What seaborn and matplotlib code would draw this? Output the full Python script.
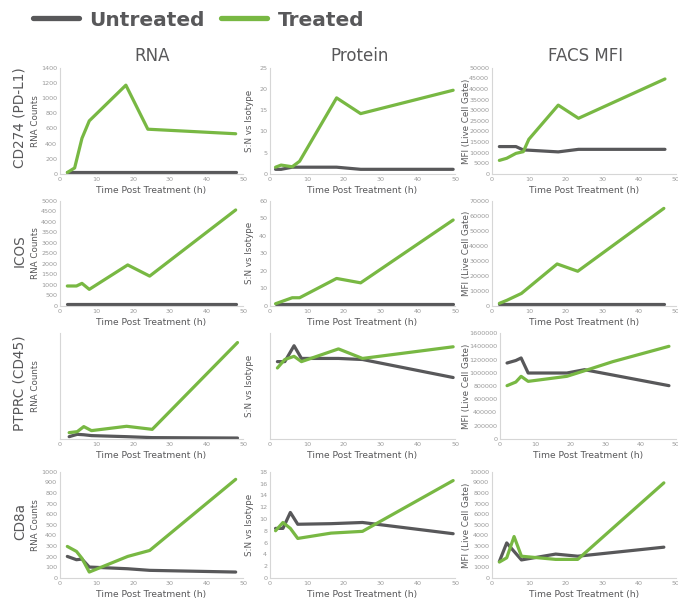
import numpy as np
import pandas as pd
import matplotlib.pyplot as plt
import matplotlib.transforms as mtransforms
from matplotlib.lines import Line2D
from matplotlib.ticker import StrMethodFormatter
import seaborn as sns

sns.set_style("white")
plt.rcParams['font.family'] = ['DejaVu Sans']

GREEN = '#78b843'
GREY = '#58585a'
TICK_GREY = '#9a9a9a'
SPINE_GREY = '#d6d6d6'

# ---- data ----
# CD274 (PD-L1)
pdl1_rna_hours = [2, 4, 6, 8, 18, 24, 48]
pdl1_rna_untreated = [20, 20, 20, 20, 20, 20, 20]
pdl1_rna_treated = [20, 80, 470, 700, 1170, 590, 530]

pdl1_prot_hours = [1.5, 3, 6, 8, 18, 24.5, 49.5]
pdl1_prot_untreated = [1.1, 1.1, 1.6, 1.6, 1.6, 1.1, 1.1]
pdl1_prot_treated = [1.6, 2.1, 1.7, 3.0, 17.9, 14.2, 19.7]

pdl1_facs_hours = [2, 4, 6.5, 8.5, 10, 18, 23.5, 47]
pdl1_facs_untreated = [12900, 12900, 12900, 11300, 11200, 10400, 11600, 11600]
pdl1_facs_treated = [6400, 7400, 9700, 10500, 16300, 32400, 26200, 44700]

# ICOS
icos_rna_hours = [2, 4.5, 6, 8, 18.5, 24.5, 48]
icos_rna_untreated = [95, 95, 95, 95, 95, 95, 95]
icos_rna_treated = [950, 950, 1075, 790, 1950, 1420, 4560]

icos_prot_hours = [1.5, 6, 8, 18, 24.5, 49.5]
icos_prot_untreated = [1.3, 1.3, 1.3, 1.3, 1.3, 1.3]
icos_prot_treated = [1.3, 4.7, 4.7, 15.7, 13.2, 49]

icos_facs_hours = [2, 4, 8, 17.7, 23.3, 46.7]
icos_facs_untreated = [1540, 1540, 1540, 1540, 1540, 1540]
icos_facs_treated = [1760, 3740, 8360, 27950, 23100, 64900]

# PTPRC (CD45) - RNA and protein panels carry no y scale (relative units)
cd45_rna_hours = [2.5, 4.7, 6.5, 8.6, 18.2, 25.2, 48.5]
cd45_rna_untreated = [2.2, 4.4, 4.0, 3.2, 2.2, 1.3, 0.9]
cd45_rna_treated = [6.0, 6.9, 11.7, 7.9, 12.0, 9.1, 91]

cd45_prot_hours = [2, 4, 6.5, 8.5, 18.5, 25, 49.5]
cd45_prot_untreated = [73, 73, 88, 76, 76, 75, 58]
cd45_prot_treated = [67, 75, 78, 73, 85, 76, 87]

cd45_facs_hours = [2, 4.5, 6, 8, 19, 24, 32, 48]
cd45_facs_untreated = [1147000, 1185000, 1223000, 996000, 996000, 1046000, 966000, 805000]
cd45_facs_treated = [805000, 860000, 946000, 870000, 946000, 1030000, 1167000, 1399000]

# CD8a
cd8_rna_hours = [2, 4.5, 6, 8, 18.5, 24.5, 48]
cd8_rna_untreated = [203, 172, 178, 103, 87, 72, 56]
cd8_rna_treated = [297, 250, 185, 56, 203, 259, 928]

cd8_prot_hours = [1.5, 3.5, 5.5, 7.5, 16.5, 25, 49.5]
cd8_prot_untreated = [8.4, 8.4, 11.1, 9.1, 9.2, 9.4, 7.5]
cd8_prot_treated = [8.0, 9.4, 8.4, 6.7, 7.6, 7.9, 16.5]

cd8_facs_hours = [2, 4, 6, 8, 17.3, 23.3, 46.7]
cd8_facs_untreated = [1550, 3300, 2500, 1700, 2250, 2050, 2900]
cd8_facs_treated = [1500, 1900, 3900, 2050, 1750, 1750, 8950]

row_names = ['CD274 (PD-L1)', 'ICOS', 'PTPRC (CD45)', 'CD8a']
col_names = ['RNA', 'Protein', 'FACS MFI']
col_ylabels = ['RNA Counts', 'S:N vs Isotype', 'MFI (Live Cell Gate)']

# (hours, untreated, treated, ymax, ystep) ; ystep None -> no y tick labels
panels = [
    [(pdl1_rna_hours, pdl1_rna_untreated, pdl1_rna_treated, 1400, 200),
     (pdl1_prot_hours, pdl1_prot_untreated, pdl1_prot_treated, 25, 5),
     (pdl1_facs_hours, pdl1_facs_untreated, pdl1_facs_treated, 50000, 5000)],
    [(icos_rna_hours, icos_rna_untreated, icos_rna_treated, 5000, 500),
     (icos_prot_hours, icos_prot_untreated, icos_prot_treated, 60, 10),
     (icos_facs_hours, icos_facs_untreated, icos_facs_treated, 70000, 10000)],
    [(cd45_rna_hours, cd45_rna_untreated, cd45_rna_treated, 100, None),
     (cd45_prot_hours, cd45_prot_untreated, cd45_prot_treated, 100, None),
     (cd45_facs_hours, cd45_facs_untreated, cd45_facs_treated, 1600000, 200000)],
    [(cd8_rna_hours, cd8_rna_untreated, cd8_rna_treated, 1000, 100),
     (cd8_prot_hours, cd8_prot_untreated, cd8_prot_treated, 18, 2),
     (cd8_facs_hours, cd8_facs_untreated, cd8_facs_treated, 10000, 1000)],
]

# ---- layout (pixel boxes) ----
W, H = 678, 601
fig = plt.figure(figsize=(W / 100, H / 100), dpi=100)

col_px = [(60, 243), (270, 455), (492, 676)]
row_px = [(67.7, 174), (200.7, 306), (333, 439), (471.7, 578)]
ylabel_x = [40, 254, 471]


def add_px_axes(l, r, t, b):
    return fig.add_axes([l / W, 1 - b / H, (r - l) / W, (b - t) / H])


for i, row in enumerate(panels):
    t, b = row_px[i]
    for j, (hours, untreated, treated, ymax, ystep) in enumerate(row):
        l, r = col_px[j]
        if i == 2 and j == 2:
            l = 500
        ax = add_px_axes(l, r, t, b)
        df = pd.DataFrame({'hours': hours, 'Untreated': untreated, 'Treated': treated})
        sns.lineplot(data=df, x='hours', y='Untreated', ax=ax, color=GREY, lw=2.3)
        sns.lineplot(data=df, x='hours', y='Treated', ax=ax, color=GREEN, lw=2.3)
        ax.set_xlim(0, 50)
        ax.set_ylim(0, ymax)
        ax.set_xticks(np.arange(0, 51, 10))
        if ystep is None:
            ax.set_yticks([])
        else:
            ax.set_yticks(np.arange(0, ymax + 1, ystep))
            ax.yaxis.set_major_formatter(StrMethodFormatter('{x:.0f}'))
        ax.tick_params(length=0, labelsize=4.6, labelcolor=TICK_GREY, pad=2)
        for side in ['top', 'right']:
            ax.spines[side].set_visible(False)
        for side in ['left', 'bottom']:
            ax.spines[side].set_color(SPINE_GREY)
            ax.spines[side].set_linewidth(0.8)
        ax.set_xlabel('Time Post Treatment (h)', fontsize=6.6, color=GREY, labelpad=3)
        ax.set_ylabel(col_ylabels[j], fontsize=6.3, color=GREY)
        trans = mtransforms.blended_transform_factory(fig.transFigure, ax.transAxes)
        ax.yaxis.set_label_coords(ylabel_x[j] / W, 0.5, transform=trans)

    fig.text(20 / W, 1 - ((t + b) / 2 - 3) / H, row_names[i], rotation=90,
             ha='center', va='center', fontsize=9.8, color=GREY)

col_title_x = [152, 360, 586]
for j, name in enumerate(col_names):
    fig.text(col_title_x[j] / W, 1 - 56 / H, name, ha='center', va='center',
             fontsize=12, color=GREY)

handles = [Line2D([], [], color=GREY, lw=3.8), Line2D([], [], color=GREEN, lw=3.8)]
leg = fig.legend(handles, ['Untreated', 'Treated'], loc='center left',
                 bbox_to_anchor=(15 / W, 1 - 20 / H), ncol=2, frameon=False,
                 fontsize=14.5, handlelength=2.3, columnspacing=0.8, handletextpad=0.5)
for txt in leg.get_texts():
    txt.set_color(GREY)
    txt.set_fontweight('bold')

fig.savefig('out.png', dpi=100)
